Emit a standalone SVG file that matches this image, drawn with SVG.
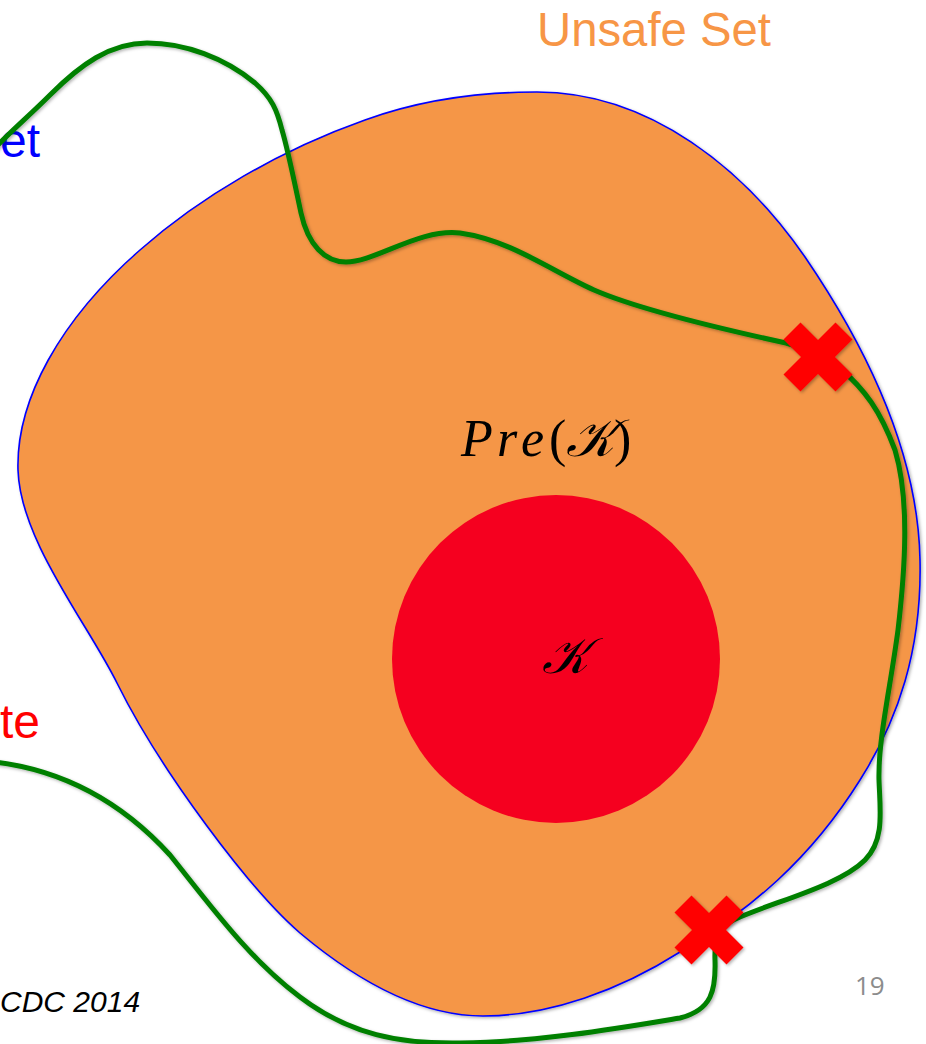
<svg xmlns="http://www.w3.org/2000/svg" width="926" height="1044" viewBox="0 0 926 1044">
  <defs>
    <style>
      .blob { fill: #F59647; stroke: #0000FF; stroke-width: 1.6; }
      .traj { fill: none; stroke: #008000; stroke-width: 5; stroke-linecap: round; stroke-linejoin: round; }
      .cross { fill: #FF0000; }
      .math { font-family: "Liberation Serif", "DejaVu Serif", serif; fill: #000000; }
      .label { font-family: "Liberation Sans", Arial, sans-serif; }
    </style>
    <filter id="shadow" x="-10%" y="-10%" width="120%" height="120%">
      <feDropShadow dx="1.5" dy="1.5" stdDeviation="1.5" flood-color="#000000" flood-opacity="0.3"/>
    </filter>
    <path id="xmark" class="cross" d="M -17.5,-34.5 L 0,-17 L 17.5,-34.5 L 34.5,-17.5 L 17,0 L 34.5,17.5 L 17.5,34.5 L 0,17 L -17.5,34.5 L -34.5,17.5 L -17,0 L -34.5,-17.5 Z"/>
  </defs>

  <rect width="926" height="1044" fill="#FFFFFF"/>

  <g id="unsafe-set-region">
    <path class="blob" filter="url(#shadow)" d="M 537,92 C 650,92 745,170 805,257 C 865,345 918,450 920,560 C 922,650 898,720 860,780 C 810,860 750,910 680,952 C 620,990 550,1016 483,1016 C 415,1016 350,975 300,933 C 250,890 160,770 117,683 C 88,624 20,540 18,470 C 16,400 60,320 140,250 C 200,197 280,150 365,120 C 420,100 480,92 537,92 Z"/>
  </g>

  <g id="target-set">
    <circle cx="556" cy="659" r="164" fill="#F5001F"/>
    <text class="math" x="542" y="673" font-size="50" font-style="italic">𝒦</text>
  </g>

  <g id="pre-label">
    <text class="math" y="456" font-size="52">
      <tspan x="461" font-style="italic">P</tspan><tspan x="497" font-style="italic">r</tspan><tspan x="521" font-style="italic">e</tspan><tspan x="549">(</tspan><tspan x="566" font-style="italic">𝒦</tspan><tspan x="614">)</tspan>
    </text>
  </g>

  <g id="labels">
    <text id="unsafe-label" class="label" x="537" y="46" font-size="48" fill="#F79646" textLength="234" lengthAdjust="spacingAndGlyphs">Unsafe Set</text>
    <text id="set-label" class="label" x="0" y="157" font-size="48" fill="#0000FF">et</text>
    <text id="state-label" class="label" x="0" y="738" font-size="48" fill="#FF0000">te</text>
    <text id="cdc-label" class="label" x="0" y="1012" font-size="30" font-style="italic" fill="#000000">CDC 2014</text>
    <text id="page-number" x="855" y="995" font-family="'Open Sans', 'Liberation Sans', sans-serif" font-size="26" fill="#8C8C8C">19</text>
  </g>

  <g id="connectors">
    <path id="trajectory" class="traj" filter="url(#shadow)" d="M -5,762 C 60,770 120,800 170,855 C 210,905 250,960 300,997 C 350,1035 400,1044 460,1043 C 540,1042 620,1028 680,1018 C 712,1010 716,990 715,960 C 714,935 720,925 740,917 C 780,900 840,885 865,860 C 885,840 880,810 879,780 C 878,740 890,690 898,630 C 905,570 910,500 895,450 C 880,410 865,390 840,368 C 830,358 810,350 786,343 C 740,333 640,310 594,290 C 550,270 510,240 460,233 C 420,228 375,262 346,262 C 325,262 308,245 301,213 C 295,185 288,150 282,130 C 277,110 272,98 255,83 C 225,58 185,43 147,43 C 110,43 80,65 50,95 C 30,115 10,132 -5,148"/>
  </g>

  <g id="crossing-upper">
    <use href="#xmark" x="818" y="357" filter="url(#shadow)"/>
  </g>
  <g id="crossing-lower">
    <use href="#xmark" x="709" y="930" filter="url(#shadow)"/>
  </g>
</svg>
